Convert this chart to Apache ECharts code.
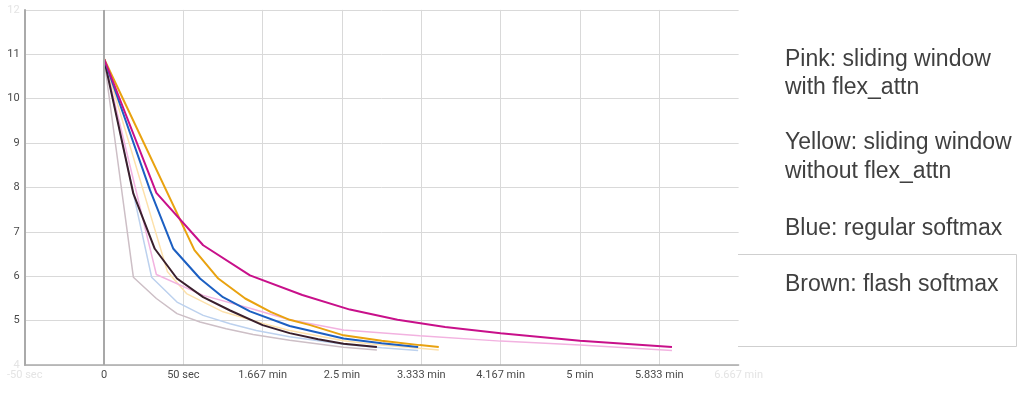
<!DOCTYPE html>
<html>
<head>
<meta charset="utf-8">
<script src="https://cdn.jsdelivr.net/npm/echarts@6/dist/echarts.min.js"></script>
<style>
html,body{margin:0;padding:0;background:#fff;}
#chart{width:1024px;height:396px;}
</style>
</head>
<body>
<div id="chart"></div>
<script>
// ---- data (x = wall time in seconds, y = loss) ----
const xTickValues = [-50, 0, 50, 100, 150, 200, 250, 300, 350, 400];
const xTickLabels = ['-50 sec', '0', '50 sec', '1.667 min', '2.5 min', '3.333 min', '4.167 min', '5 min', '5.833 min', '6.667 min'];
const yTickValues = [4, 5, 6, 7, 8, 9, 10, 11, 12];

const pinkDark = [[0,10.9],[33,7.88],[62.5,6.70],[92,6.02],[125,5.58],[155,5.25],[185,5.02],[215,4.86],[250,4.72],[300,4.55],[358,4.41]];
const pinkLight = [[0,10.9],[33,6.04],[62.5,5.57],[92,5.28],[117,5.02],[151,4.79],[199,4.66],[250,4.54],[300,4.45],[358,4.33]];
const yellowDark = [[0,10.9],[57,6.59],[72,5.95],[89,5.50],[105,5.20],[117,5.02],[130,4.90],[151,4.67],[175,4.55],[199,4.45],[211,4.41]];
const yellowLight = [[0,10.9],[40,6.10],[52,5.61],[75,5.20],[100,4.94],[117,4.78],[151,4.55],[175,4.45],[199,4.38],[211,4.34]];
const blueDark = [[0,10.9],[29,7.94],[43.7,6.62],[60.5,5.95],[75,5.53],[92,5.21],[117,4.88],[151,4.60],[175,4.49],[198,4.41]];
const blueLight = [[0,10.9],[30,5.98],[46,5.42],[62.5,5.12],[79.5,4.93],[96,4.78],[117,4.64],[151,4.47],[175,4.39],[198,4.33]];
const brownDark = [[0,10.9],[18.5,7.86],[32,6.62],[46,5.95],[62.5,5.53],[79.5,5.23],[100,4.90],[117,4.72],[135,4.58],[151,4.48],[172,4.41]];
const brownLight = [[0,10.9],[18.5,5.98],[33,5.50],[46,5.16],[60.5,4.97],[77,4.82],[94,4.69],[117,4.56],[151,4.40],[172,4.34]];

const noteLines = [
  'Pink: sliding window', 'with flex_attn',
  'Yellow: sliding window', 'without flex_attn',
  'Blue: regular softmax',
  'Brown: flash softmax'
];

// ---- chart ----
const chart = echarts.init(document.getElementById('chart'), null, {renderer: 'canvas'});

function line(name, data, color, width, z) {
  return {
    name: name, type: 'line', data: data, showSymbol: false, symbol: 'none',
    lineStyle: {color: color, width: width}, itemStyle: {color: color},
    z: z, silent: true, animation: false
  };
}

const noteY = [60, 88, 143, 172, 229, 285];
const graphics = noteLines.map((t, i) => ({
  type: 'text', x: 785, y: noteY[i], z: 100,
  style: {text: t, fontSize: 23, fontFamily: '"Liberation Sans", Arial, sans-serif',
          fill: '#404040', verticalAlign: 'middle', align: 'left'}
}));
graphics.push({
  type: 'polyline', z: 99,
  shape: {points: [[738, 254.5], [1016.5, 254.5], [1016.5, 346.5], [738, 346.5]]},
  style: {stroke: '#cfcfcf', lineWidth: 1, fill: null}
});

const labelRich = {
  n: {color: '#4a4a4a', fontSize: 11, fontFamily: 'Roboto, sans-serif'},
  f: {color: '#e4e4e4', fontSize: 11, fontFamily: 'Roboto, sans-serif'}
};

const option = {
  backgroundColor: '#ffffff',
  animation: false,
  grid: {left: 24.7, right: 285.4, top: 9.9, bottom: 30.9, containLabel: false},
  xAxis: {
    type: 'value', min: -50, max: 400, interval: 50,
    axisLine: {show: true, onZero: false, lineStyle: {color: '#aaaaaa', width: 1.5}},
    axisTick: {show: false},
    splitLine: {show: true, showMaxLine: false, showMinLine: false, lineStyle: {color: '#d9d9d9', width: 1}},
    axisLabel: {
      margin: 5, rich: labelRich,
      formatter: (v) => {
        const i = xTickValues.indexOf(Number(v));
        if (i < 0) return '';
        const edge = (i === 0 || i === xTickValues.length - 1);
        return '{' + (edge ? 'f' : 'n') + '|' + xTickLabels[i] + '}';
      }
    }
  },
  yAxis: {
    type: 'value', min: 4, max: 12, interval: 1,
    axisLine: {show: true, onZero: false, lineStyle: {color: '#aaaaaa', width: 2}},
    axisTick: {show: false},
    splitLine: {show: true, lineStyle: {color: '#d9d9d9', width: 1}},
    axisLabel: {
      margin: 5, rich: labelRich,
      formatter: (v) => {
        const n = Number(v);
        if (yTickValues.indexOf(n) < 0) return '';
        const edge = (n === yTickValues[0] || n === yTickValues[yTickValues.length - 1]);
        return '{' + (edge ? 'f' : 'n') + '|' + n + '}';
      }
    }
  },
  graphic: graphics,
  series: [
    Object.assign(line('brownLight', brownLight, '#cdbfc6', 1.5, 2), {
      markLine: {
        silent: true, symbol: ['none', 'none'], label: {show: false},
        lineStyle: {color: '#a8a8a8', width: 2, type: 'solid'},
        data: [{xAxis: 0}], animation: false
      }
    }),
    line('blueLight', blueLight, '#bcd1ee', 1.5, 2),
    line('yellowLight', yellowLight, '#fde1ab', 1.5, 2),
    line('pinkLight', pinkLight, '#f2b2e0', 1.5, 2),
    line('brownDark', brownDark, '#3a1f2c', 2, 3),
    line('blueDark', blueDark, '#1c5fc2', 2, 3),
    line('yellowDark', yellowDark, '#e9a20f', 2, 3),
    line('pinkDark', pinkDark, '#c8108a', 2, 3)
  ]
};
chart.setOption(option);
</script>
</body>
</html>
